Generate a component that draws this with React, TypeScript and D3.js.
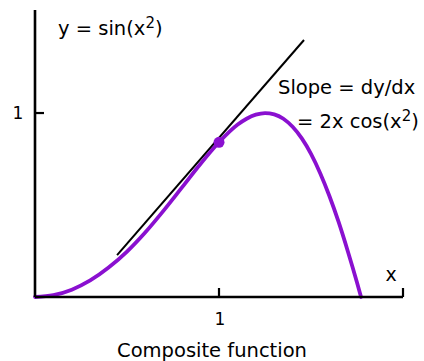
import React from "react";
import * as d3 from "d3";

const curveX = [0, 0.1, 0.2, 0.3, 0.4, 0.5, 0.6, 0.7, 0.8, 0.9, 1.0, 1.1, 1.15, 1.2, 1.25, 1.3, 1.35, 1.4, 1.45, 1.5, 1.55, 1.6, 1.65, 1.7, 1.75, 1.772];
const curveY = [0, 0.01, 0.04, 0.09, 0.16, 0.247, 0.352, 0.471, 0.597, 0.724, 0.841, 0.936, 0.969, 0.991, 1.0, 0.993, 0.969, 0.925, 0.862, 0.778, 0.673, 0.549, 0.408, 0.249, 0.079, 0];
const tangentX = [0.446, 1.462];
const tangentY = [0.228, 1.397];
const pointX = 1;
const pointY = 0.841;
const xTicks = [1];
const yTicks = [1];

const W = 424;
const H = 361;
const FONT = "'Comic Sans MS', 'DejaVu Sans', sans-serif";
const PURPLE = "#8a10d0";

export default function App() {
  const x = d3.scaleLinear().domain([0, 2]).range([35, 403]);
  const y = d3.scaleLinear().domain([0, 1.56]).range([297, 10]);
  const pts: [number, number][] = curveX.map((v, i) => [v, curveY[i]]);
  const line = d3
    .line<[number, number]>()
    .x((d) => x(d[0]))
    .y((d) => y(d[1]))
    .curve(d3.curveMonotoneX);
  const x0 = x(0);
  const y0 = y(0);
  return (
    <svg
      width={W}
      height={H}
      style={{ position: "absolute", left: 0, top: 0, background: "#fff" }}
      fontFamily={FONT}
    >
      <rect width={W} height={H} fill="#fff" />
      <line
        x1={x(tangentX[0])}
        y1={y(tangentY[0])}
        x2={x(tangentX[1])}
        y2={y(tangentY[1])}
        stroke="#000"
        strokeWidth={2}
      />
      <path d={line(pts) || ""} fill="none" stroke={PURPLE} strokeWidth={3.8} strokeLinecap="round" />
      <circle cx={x(pointX)} cy={y(pointY)} r={5.5} fill={PURPLE} />
      <line x1={x0} y1={y(1.56)} x2={x0} y2={y0} stroke="#000" strokeWidth={2.6} />
      <line x1={x0} y1={y0} x2={x(2)} y2={y0} stroke="#000" strokeWidth={2.6} />
      <line x1={x(2)} y1={y0} x2={x(2)} y2={y0 - 9} stroke="#000" strokeWidth={2.2} />
      {yTicks.map((t) => (
        <g key={"y" + t}>
          <line x1={x0} y1={y(t)} x2={x0 + 9} y2={y(t)} stroke="#000" strokeWidth={2.2} />
          <text x={18} y={y(t) + 6} fontSize={17} textAnchor="middle" fill="#000">
            {t}
          </text>
        </g>
      ))}
      {xTicks.map((t) => (
        <g key={"x" + t}>
          <line x1={x(t)} y1={y0} x2={x(t)} y2={y0 - 9} stroke="#000" strokeWidth={2.2} />
          <text x={x(t) + 1} y={325} fontSize={17} textAnchor="middle" fill="#000">
            {t}
          </text>
        </g>
      ))}
      <text x={391} y={281} fontSize={19} textAnchor="middle" fill="#000">x</text>
      <text x={58} y={35} fontSize={19.5} fill="#000">
        y = sin(x<tspan dy={-7} fontSize={15}>2</tspan><tspan dy={7}>)</tspan>
      </text>
      <text x={278} y={94} fontSize={19.5} fill="#000">Slope = dy/dx</text>
      <text x={297} y={128} fontSize={19.5} fill="#000">
        = 2x cos(x<tspan dy={-7} fontSize={15}>2</tspan><tspan dy={7}>)</tspan>
      </text>
      <text x={212} y={357} fontSize={19.5} textAnchor="middle" fill="#000">
        Composite function
      </text>
    </svg>
  );
}
